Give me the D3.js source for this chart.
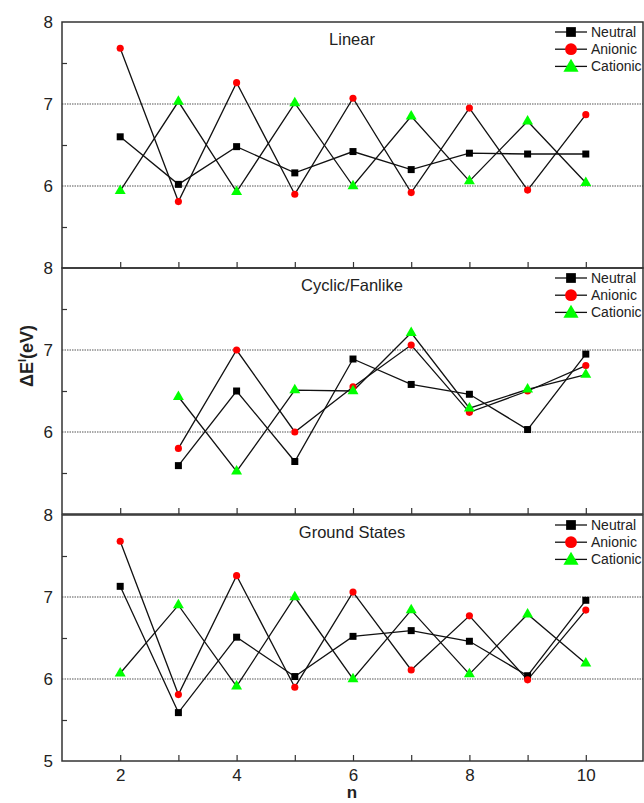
<!DOCTYPE html>
<html>
<head>
<meta charset="utf-8">
<script src="https://cdn.jsdelivr.net/npm/d3@7"></script>
<style>
  body { margin: 0; background: #fff; }
  svg { display: block; font-family: "Liberation Sans", Arial, sans-serif; }
</style>
</head>
<body>
<div id="chart"></div>
<script>
// n values shared by all panels
const nValues = [2, 3, 4, 5, 6, 7, 8, 9, 10];
const panelTitles = ["Linear", "Cyclic/Fanlike", "Ground States"];
const seriesNames = ["Neutral", "Anionic", "Cationic"];

// Linear
const linearNeutral  = [6.60, 6.02, 6.48, 6.16, 6.42, 6.20, 6.40, 6.39, 6.39];
const linearAnionic  = [7.68, 5.81, 7.26, 5.90, 7.07, 5.92, 6.95, 5.95, 6.87];
const linearCationic = [5.94, 7.03, 5.93, 7.01, 6.00, 6.85, 6.06, 6.79, 6.04];

// Cyclic/Fanlike (no n = 2)
const cyclicNeutral  = [null, 5.59, 6.50, 5.64, 6.89, 6.58, 6.46, 6.03, 6.95];
const cyclicAnionic  = [null, 5.80, 7.00, 6.00, 6.55, 7.06, 6.24, 6.50, 6.81];
const cyclicCationic = [null, 6.43, 5.52, 6.51, 6.50, 7.21, 6.29, 6.52, 6.70];

// Ground States
const groundNeutral  = [7.13, 5.59, 6.51, 6.03, 6.52, 6.59, 6.46, 6.04, 6.96];
const groundAnionic  = [7.68, 5.81, 7.26, 5.90, 7.06, 6.11, 6.77, 5.99, 6.84];
const groundCationic = [6.07, 6.90, 5.91, 7.00, 6.00, 6.84, 6.06, 6.79, 6.19];

const yTickLabels = [[8, 7, 6], [8, 7, 6], [8, 7, 6, 5]];
const xTickLabels = [2, 4, 6, 8, 10];

const panels = [
  [linearNeutral, linearAnionic, linearCationic],
  [cyclicNeutral, cyclicAnionic, cyclicCationic],
  [groundNeutral, groundAnionic, groundCationic]
];

const width = 644, height = 803;
const left = 62, right = 643;
const panelTop = [22, 268, 515];
const panelH = 246;

const colors = ["#000000", "#ff0000", "#00ff00"];
const symbols = [d3.symbolSquare, d3.symbolCircle, d3.symbolTriangle];
const plotSizes = [49, 40, 52];
const legendSizes = [95, 110, 100];

const svg = d3.select("#chart").append("svg")
    .attr("width", width)
    .attr("height", height);

const x = d3.scaleLinear().domain([1, 11]).range([left, 644]);

panels.forEach((series, p) => {
  const top = panelTop[p];
  const y = d3.scaleLinear().domain([5, 8]).range([top + panelH, top]);
  const g = svg.append("g");

  // dotted reference lines at 6 and 7
  g.selectAll(".grid")
      .data([6, 7])
      .enter().append("line")
      .attr("x1", left).attr("x2", right)
      .attr("y1", d => y(d)).attr("y2", d => y(d))
      .attr("stroke", "#555")
      .attr("stroke-width", 1.2)
      .attr("stroke-dasharray", "1.5,1");

  // frame
  g.append("rect")
      .attr("x", left).attr("y", top)
      .attr("width", right - left).attr("height", panelH)
      .attr("fill", "none")
      .attr("stroke", "#333")
      .attr("stroke-width", 1.5);

  // left axis labels
  const yAxis = g.append("g")
      .attr("transform", "translate(" + left + ",0)")
      .call(d3.axisLeft(y).tickValues(yTickLabels[p]).tickSize(0).tickPadding(9).tickFormat(d3.format("d")));
  yAxis.select(".domain").remove();
  yAxis.selectAll("text").attr("font-size", 17).attr("fill", "#222").attr("font-family", "Liberation Sans, Arial, sans-serif");

  // minor inward ticks
  const yMinor = g.append("g")
      .attr("transform", "translate(" + left + ",0)")
      .call(d3.axisLeft(y).tickValues([5.5, 6.5, 7.5]).tickSize(-5).tickFormat(""));
  yMinor.select(".domain").remove();
  yMinor.selectAll("line").attr("stroke", "#333").attr("stroke-width", 1.2);

  // bottom inward ticks
  const xAxis = g.append("g")
      .attr("transform", "translate(0," + (top + panelH) + ")")
      .call(d3.axisBottom(x).tickValues(nValues).tickSizeInner(-6).tickSizeOuter(0).tickPadding(8)
        .tickFormat(d => (p === 2 && xTickLabels.includes(d)) ? d : ""));
  xAxis.select(".domain").remove();
  xAxis.selectAll("line").attr("stroke", "#333").attr("stroke-width", 1.2);
  xAxis.selectAll("text").attr("font-size", 17).attr("fill", "#222").attr("font-family", "Liberation Sans, Arial, sans-serif");

  // panel title
  g.append("text")
      .attr("x", 352).attr("y", top + 23)
      .attr("text-anchor", "middle")
      .attr("font-size", 16.5)
      .attr("fill", "#222")
      .text(panelTitles[p]);

  const line = d3.line()
      .defined(d => d.v !== null)
      .x(d => x(d.n))
      .y(d => y(d.v));

  series.forEach((vals, s) => {
    const pts = vals.map((v, i) => ({ n: nValues[i], v: v }));
    g.append("path")
        .datum(pts)
        .attr("fill", "none")
        .attr("stroke", "#111")
        .attr("stroke-width", 1.3)
        .attr("d", line);
  });

  series.forEach((vals, s) => {
    const pts = vals.map((v, i) => ({ n: nValues[i], v: v })).filter(d => d.v !== null);
    g.selectAll(".m" + s)
        .data(pts)
        .enter().append("path")
        .attr("transform", d => "translate(" + x(d.n) + "," + y(d.v) + ")")
        .attr("d", d3.symbol().type(symbols[s]).size(plotSizes[s]))
        .attr("fill", colors[s]);
  });

  // legend
  const legend = g.append("g")
      .attr("transform", "translate(0," + (top + 10) + ")");
  seriesNames.forEach((name, s) => {
    const ly = s * 17.2;
    legend.append("line")
        .attr("x1", 555).attr("x2", 587)
        .attr("y1", ly).attr("y2", ly)
        .attr("stroke", "#111").attr("stroke-width", 1.3);
    legend.append("path")
        .attr("transform", "translate(571," + (ly + (s === 2 ? 1 : 0)) + ")")
        .attr("d", d3.symbol().type(symbols[s]).size(legendSizes[s]))
        .attr("fill", colors[s]);
    legend.append("text")
        .attr("x", 591).attr("y", ly + 5)
        .attr("font-size", 14)
        .attr("fill", "#222")
        .text(name);
  });
});

// axis titles
svg.append("text")
    .attr("transform", "translate(33,356) rotate(-90)")
    .attr("text-anchor", "middle")
    .attr("font-size", 18)
    .attr("font-weight", "bold")
    .attr("fill", "#222")
    .html('ΔE<tspan dy="-7" font-size="11">I</tspan><tspan dy="7">(eV)</tspan>');

svg.append("text")
    .attr("x", 352).attr("y", 798)
    .attr("text-anchor", "middle")
    .attr("font-size", 17)
    .attr("font-weight", "bold")
    .attr("fill", "#222")
    .text("n");
</script>
</body>
</html>
